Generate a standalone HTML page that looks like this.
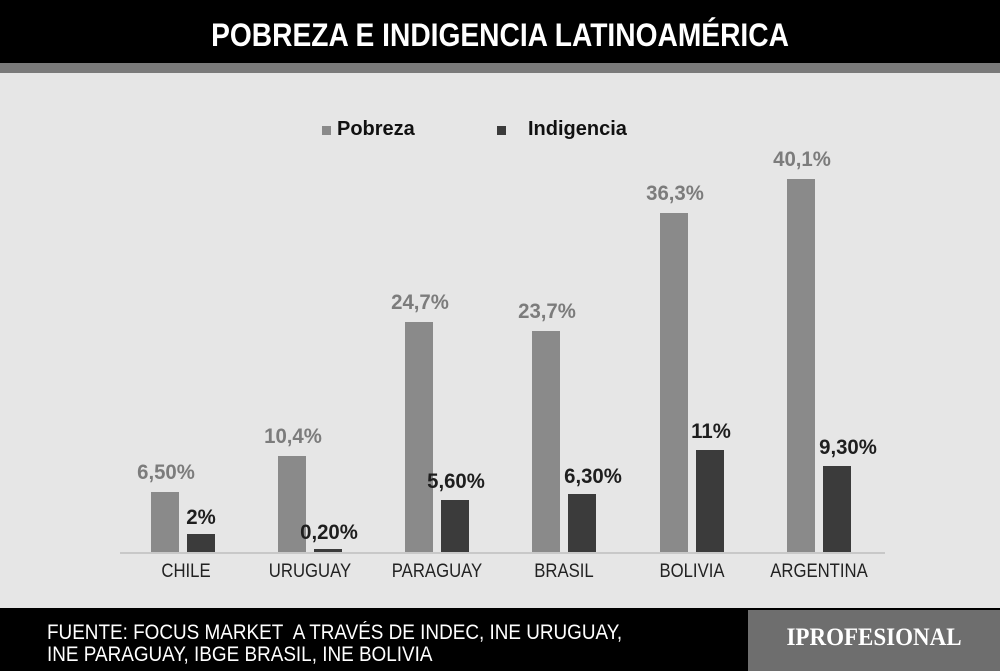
<!DOCTYPE html>
<html><head><meta charset="utf-8"><style>
body{margin:0;width:1000px;height:671px;overflow:hidden;background:#e6e6e6;font-family:"Liberation Sans",sans-serif;position:relative}
.a{position:absolute}
.bar{position:absolute}
.p{background:#8a8a8a}.i{background:#3b3b3b}
.lp,.li{position:absolute;font-weight:bold;font-size:21px;width:90px;text-align:center;transform:scaleX(0.97)}
.lp{color:#7c7c7c}.li{color:#1e1e1e}
.c{position:absolute;top:561px;font-size:19px;color:#222;width:140px;text-align:center;transform:scaleX(0.88)}
</style></head><body>
<div class="a" style="left:0;top:0;width:1000px;height:63px;background:#000"></div>
<div class="a" style="left:0;top:17px;width:1000px;text-align:center;color:#fff;font-weight:bold;font-size:32px;transform:scaleX(0.88)">POBREZA E INDIGENCIA LATINOAMÉRICA</div>
<div class="a" style="left:0;top:63px;width:1000px;height:10px;background:#7a7a7a"></div>
<div class="a" style="left:322px;top:126px;width:9px;height:9px;background:#8a8a8a"></div>
<div class="a" style="left:337px;top:118px;font-weight:bold;font-size:20px;color:#111">Pobreza</div>
<div class="a" style="left:497px;top:126px;width:9px;height:9px;background:#3b3b3b"></div>
<div class="a" style="left:528px;top:118px;font-weight:bold;font-size:20px;color:#111">Indigencia</div>
<div class="a" style="left:120px;top:552px;width:765px;height:2px;background:#c8c8c8"></div>

<div class="bar p" style="left:151px;top:492px;width:28px;height:60px"></div>
<div class="bar i" style="left:187px;top:534px;width:28px;height:18px"></div>
<div class="bar p" style="left:278px;top:456px;width:28px;height:96px"></div>
<div class="bar i" style="left:314px;top:549px;width:28px;height:3px"></div>
<div class="bar p" style="left:405px;top:322px;width:28px;height:230px"></div>
<div class="bar i" style="left:441px;top:500px;width:28px;height:52px"></div>
<div class="bar p" style="left:532px;top:331px;width:28px;height:221px"></div>
<div class="bar i" style="left:568px;top:494px;width:28px;height:58px"></div>
<div class="bar p" style="left:660px;top:213px;width:28px;height:339px"></div>
<div class="bar i" style="left:696px;top:450px;width:28px;height:102px"></div>
<div class="bar p" style="left:787px;top:179px;width:28px;height:373px"></div>
<div class="bar i" style="left:823px;top:466px;width:28px;height:86px"></div>

<div class="lp" style="left:121px;top:461px">6,50%</div>
<div class="li" style="left:156px;top:506px">2%</div>
<div class="lp" style="left:248px;top:425px">10,4%</div>
<div class="li" style="left:284px;top:521px">0,20%</div>
<div class="lp" style="left:375px;top:291px">24,7%</div>
<div class="li" style="left:411px;top:470px">5,60%</div>
<div class="lp" style="left:502px;top:300px">23,7%</div>
<div class="li" style="left:548px;top:465px">6,30%</div>
<div class="lp" style="left:630px;top:182px">36,3%</div>
<div class="li" style="left:666px;top:420px">11%</div>
<div class="lp" style="left:757px;top:148px">40,1%</div>
<div class="li" style="left:803px;top:436px">9,30%</div>

<div class="c" style="left:116px">CHILE</div>
<div class="c" style="left:240px">URUGUAY</div>
<div class="c" style="left:367px">PARAGUAY</div>
<div class="c" style="left:494px">BRASIL</div>
<div class="c" style="left:622px">BOLIVIA</div>
<div class="c" style="left:749px">ARGENTINA</div>

<div class="a" style="left:0;top:608px;width:1000px;height:63px;background:#000"></div>
<div class="a" style="left:748px;top:610px;width:252px;height:61px;background:#6e6e6e"></div>
<div class="a" style="left:47px;top:622px;color:#fff;font-size:21px;line-height:22px;transform:scaleX(0.9);transform-origin:left;white-space:nowrap">FUENTE: FOCUS MARKET&nbsp; A TRAVÉS DE INDEC, INE URUGUAY,<br>INE PARAGUAY, IBGE BRASIL, INE BOLIVIA</div>
<div class="a" style="left:748px;top:624px;width:252px;text-align:center;color:#fff;font-family:'Liberation Serif',serif;font-weight:bold;font-size:25px;transform:scaleX(0.92)">IPROFESIONAL</div>
</body></html>
